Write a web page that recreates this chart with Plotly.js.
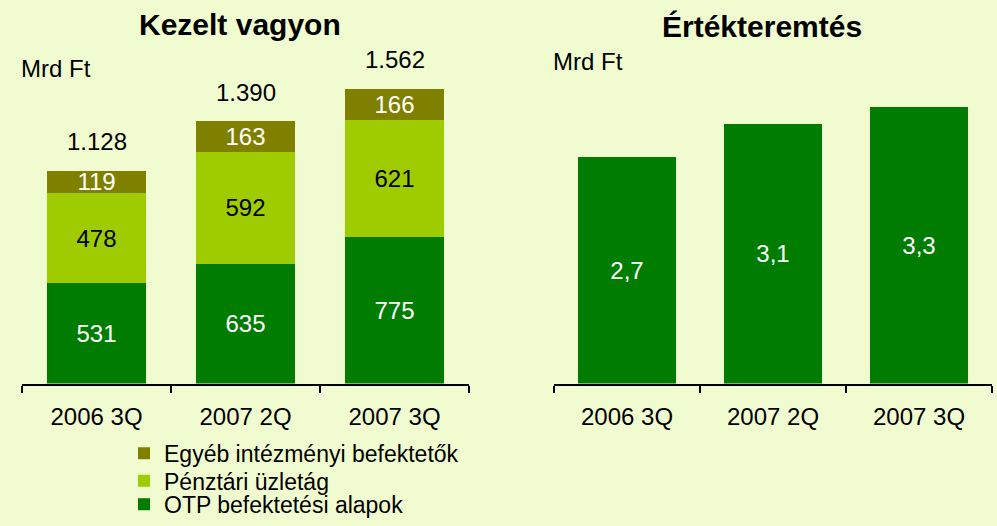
<!DOCTYPE html>
<html>
<head>
<meta charset="utf-8">
<script src="https://cdn.plot.ly/plotly-3.0.1.min.js"></script>
<style>html,body{margin:0;padding:0;background:#f0fcd0;}#chart{width:997px;height:526px;}</style>
</head>
<body>
<div id="chart"></div>
<script>
var categories = ["2006 3Q", "2007 2Q", "2007 3Q"];
var otpAlapok = [531, 635, 775];
var penztari = [478, 592, 621];
var egyeb = [119, 163, 166];
var ertekteremtes = [2.7, 3.1, 3.3];
var seriesNames = ["OTP befektetési alapok", "Pénztári üzletág", "Egyéb intézményi befektetők"];
var titles = ["Kezelt vagyon", "Értékteremtés"];
var unitLabel = "Mrd Ft";

var totals = categories.map(function (c, i) { return otpAlapok[i] + penztari[i] + egyeb[i]; });
function fmtThousands(v) { return String(v).replace(/\B(?=(\d{3})+(?!\d))/g, "."); }

var FONT = "Arial, Liberation Sans, sans-serif";
var W = 997, H = 526;
var DARK = "#007d00", LIGHT = "#9fcc00", OLIVE = "#808000";
var FS = 24;
var LFS = 23;

var traces = [
  { type: "bar", x: categories, y: otpAlapok, name: seriesNames[0], marker: { color: DARK },
    texttemplate: "%{y}", textposition: "inside", insidetextanchor: "middle", constraintext: "none",
    textfont: { color: "#ffffff", size: FS, family: FONT }, legend: "legend3", hoverinfo: "skip" },
  { type: "bar", x: categories, y: penztari, name: seriesNames[1], marker: { color: LIGHT },
    texttemplate: "%{y}", textposition: "inside", insidetextanchor: "middle", constraintext: "none",
    textfont: { color: "#000000", size: FS, family: FONT }, legend: "legend2", hoverinfo: "skip" },
  { type: "bar", x: categories, y: egyeb, name: seriesNames[2], marker: { color: OLIVE },
    texttemplate: "%{y}", textposition: "inside", insidetextanchor: "middle", constraintext: "none",
    textfont: { color: "#ffffff", size: FS, family: FONT }, legend: "legend", hoverinfo: "skip" },
  { type: "bar", x: categories, y: ertekteremtes, xaxis: "x2", yaxis: "y2", showlegend: false,
    marker: { color: DARK }, texttemplate: "%{y:.1f}", textposition: "inside", insidetextanchor: "middle",
    constraintext: "none", textfont: { color: "#ffffff", size: FS, family: FONT }, hoverinfo: "skip" }
];

var yDom = [1 - 391 / H, 1 - 40 / H];
var xaxisCommon = {
  type: "category", range: [-0.5, 2.5], tickson: "boundaries", ticks: "outside", ticklen: 7,
  tickwidth: 2, tickcolor: "#000", showline: true, linewidth: 2, linecolor: "#000",
  showgrid: false, zeroline: false, fixedrange: true, ticklabelstandoff: 11,
  tickfont: { size: FS, family: FONT, color: "#000" }
};

var annotations = [
  { text: "<b>" + titles[0] + "</b>", xref: "paper", yref: "paper", x: 240 / W, y: 1 - 25 / H,
    xanchor: "center", yanchor: "middle", showarrow: false, font: { size: 30, family: FONT, color: "#000" } },
  { text: "<b>" + titles[1] + "</b>", xref: "paper", yref: "paper", x: 762 / W, y: 1 - 27 / H,
    xanchor: "center", yanchor: "middle", showarrow: false, font: { size: 30, family: FONT, color: "#000" } },
  { text: unitLabel, xref: "paper", yref: "paper", x: 19 / W, y: 1 - 70 / H,
    xanchor: "left", yanchor: "middle", showarrow: false, font: { size: FS, family: FONT, color: "#000" } },
  { text: unitLabel, xref: "paper", yref: "paper", x: 551 / W, y: 1 - 63 / H,
    xanchor: "left", yanchor: "middle", showarrow: false, font: { size: FS, family: FONT, color: "#000" } }
];
categories.forEach(function (c, i) {
  annotations.push({ text: fmtThousands(totals[i]), x: c, y: totals[i], xref: "x", yref: "y",
    xanchor: "center", yanchor: "middle", yshift: 29, showarrow: false,
    font: { size: FS, family: FONT, color: "#000" } });
});

function legendAt(yc) {
  return { x: 124 / W, y: 1 - yc / H, xanchor: "left", yanchor: "middle", bgcolor: "rgba(0,0,0,0)",
    borderwidth: 0, font: { size: LFS, family: FONT, color: "#000" } };
}

var layout = {
  width: W, height: H, margin: { l: 0, r: 0, t: 0, b: 0 },
  paper_bgcolor: "#f0fcd0", plot_bgcolor: "rgba(0,0,0,0)",
  separators: ",.", barmode: "stack", bargap: 0.33,
  font: { family: FONT, color: "#000" },
  xaxis: Object.assign({}, xaxisCommon, { domain: [22 / W, 469 / W], anchor: "y" }),
  yaxis: { domain: yDom, range: [0, 351 / 0.1925], visible: false, fixedrange: true },
  xaxis2: Object.assign({}, xaxisCommon, { domain: [554 / W, 992 / W], anchor: "y2" }),
  yaxis2: { domain: yDom, range: [0, 351 / 85.5], visible: false, fixedrange: true, anchor: "x2" },
  showlegend: true,
  legend: legendAt(462), legend2: legendAt(490), legend3: legendAt(514),
  annotations: annotations
};

Plotly.newPlot("chart", traces, layout, { displayModeBar: false, staticPlot: true });
</script>
</body>
</html>
